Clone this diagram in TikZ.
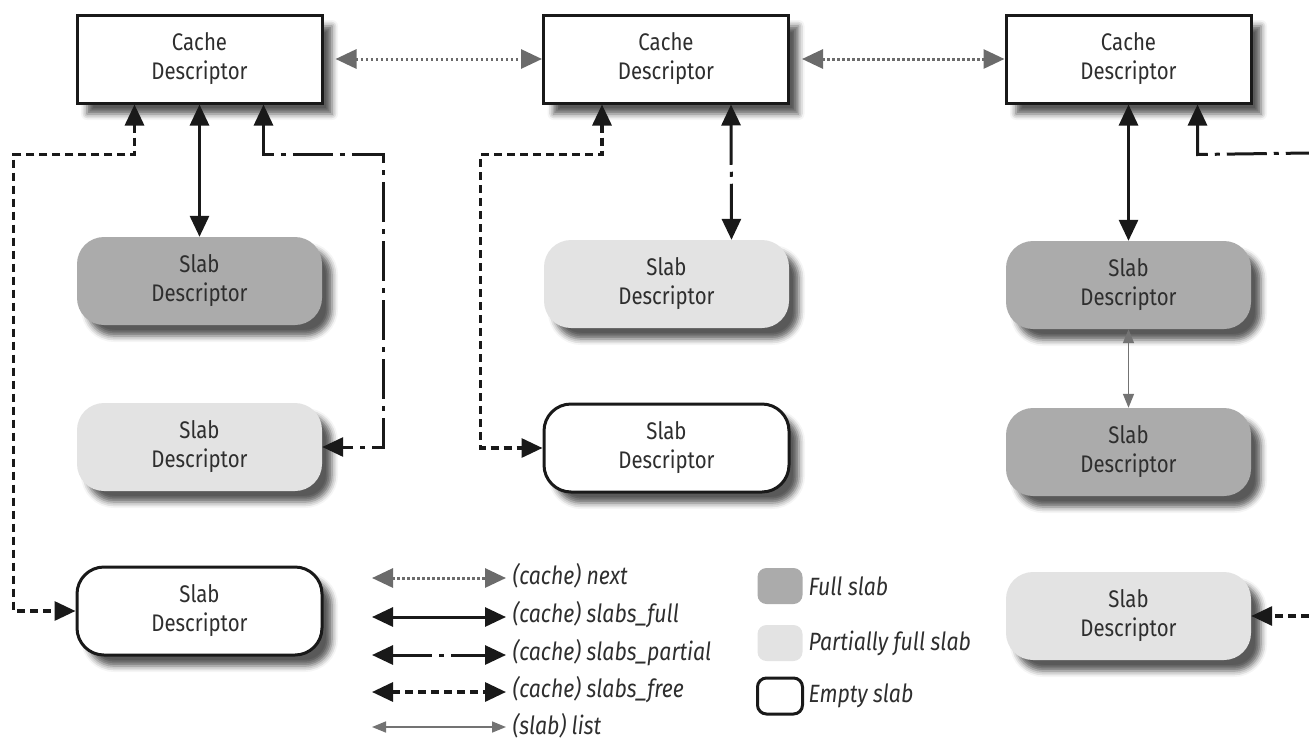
\documentclass[tikz,border=0pt]{standalone}
\usepackage{fontspec}
\setmainfont{Fira Sans}[FakeStretch=0.85]
\usetikzlibrary{arrows.meta,shadows.blur}

\tikzset{
	desc/.style={align=center, text=black!82, minimum width=245pt, minimum height=88pt, font=\fontsize{24pt}{29pt}\selectfont},
	softshadow/.style={blur shadow={shadow xshift=10pt, shadow yshift=-11pt, shadow blur radius=6pt, shadow opacity=65}},
	cachebox/.style={desc, softshadow, draw=black!90, line width=3pt, fill=white},
	slabbox/.style={desc, softshadow, rounded corners=27pt},
	fullslab/.style={slabbox, fill=black!33},
	partslab/.style={slabbox, fill=black!11},
	emptyslab/.style={slabbox, fill=white, draw=black!90, line width=3pt},
	fulllink/.style={black!90, line width=3pt},
	partlink/.style={black!90, line width=3pt, dash pattern=on 40pt off 7pt on 5pt off 7pt},
	freelink/.style={black!90, line width=3.2pt, dash pattern=on 8pt off 5pt},
	nextlink/.style={black!58, line width=3pt, dash pattern=on 2.5pt off 2.5pt},
	listlink/.style={black!55, line width=1.6pt, >={Triangle[length=14pt,width=11pt]}},
	swatch/.style={rounded corners=9pt, minimum width=45pt, minimum height=36pt},
	legtext/.style={anchor=west, text=black!82, font=\itshape\fontsize{25pt}{28pt}\selectfont}
}

\begin{document}
\begin{tikzpicture}[x=1pt, y=-1pt, >={Triangle[length=21pt,width=19pt]}]
	\useasboundingbox (0,0) rectangle (1309,742);
	% cache descriptors
	\node[cachebox] (cacheA) at (199.5,59) {Cache\\Descriptor};
	\node[cachebox] (cacheB) at (666,59) {Cache\\Descriptor};
	\node[cachebox] (cacheC) at (1128.5,59) {Cache\\Descriptor};
	% slab descriptors
	\node[fullslab] (slabA1) at (199.5,281) {Slab\\Descriptor};
	\node[partslab] (slabA2) at (199.5,447) {Slab\\Descriptor};
	\node[emptyslab] (slabA3) at (199.5,611) {Slab\\Descriptor};
	\node[partslab] (slabB1) at (666.5,284) {Slab\\Descriptor};
	\node[emptyslab] (slabB2) at (666.5,448) {Slab\\Descriptor};
	\node[fullslab] (slabC1) at (1128.5,285) {Slab\\Descriptor};
	\node[fullslab] (slabC2) at (1128.5,452) {Slab\\Descriptor};
	\node[partslab] (slabC3) at (1128.5,616) {Slab\\Descriptor};
	\coordinate (edgeP) at (1309,153);
	\coordinate (edgeF) at (1309,616);

	% next
	\draw[nextlink,<->] ([xshift=12pt]cacheA.east) -- (cacheB.west);
	\draw[nextlink,<->] ([xshift=12pt]cacheB.east) -- (cacheC.west);
	% left cache
	\draw[fulllink,<->] (cacheA.south) -- (slabA1.north);
	\draw[freelink,<->] ([xshift=-65pt]cacheA.south) -- ++(0,50) -| ([xshift=-62pt]slabA3.west) -- (slabA3.west);
	\draw[partlink,<->] ([xshift=64pt]cacheA.south) -- ++(0,50) -| ([xshift=61pt]slabA2.east) -- (slabA2.east);
	% middle cache
	\draw[freelink,<->] ([xshift=-64pt]cacheB.south) -- ++(0,50) -| ([xshift=-62pt]slabB2.west) -- (slabB2.west);
	\draw[partlink,<->] ([xshift=65pt]cacheB.south) -- ([xshift=65pt]slabB1.north);
	% right cache
	\draw[fulllink,<->] (cacheC.south) -- (slabC1.north);
	\draw[listlink,<->] (slabC1.south) -- (slabC2.north);
	\draw[partlink,<-] ([xshift=69pt]cacheC.south) -- ++(0,50) -- (edgeP);
	\draw[freelink,->] (edgeF) -- (slabC3.east);

	% legend
	\coordinate (lgL1) at (372,578); \coordinate (lgR1) at (506,578);
	\coordinate (lgL2) at (372,617); \coordinate (lgR2) at (506,617);
	\coordinate (lgL3) at (372,655); \coordinate (lgR3) at (506,655);
	\coordinate (lgL4) at (372,692); \coordinate (lgR4) at (506,692);
	\coordinate (lgL5) at (372,727); \coordinate (lgR5) at (506,727);
	\draw[nextlink,<->] (lgL1) -- (lgR1);
	\draw[fulllink,<->] (lgL2) -- (lgR2);
	\draw[partlink,<->] (lgL3) -- (lgR3);
	\draw[freelink,<->] (lgL4) -- (lgR4);
	\draw[listlink,<->] (lgL5) -- (lgR5);
	\node[legtext] (lgNext) at (509,576) {(cache) next};
	\node[legtext] (lgFull) at (509,615) {(cache) slabs\_full};
	\node[legtext] (lgPart) at (509,653) {(cache) slabs\_partial};
	\node[legtext] (lgFree) at (509,690) {(cache) slabs\_free};
	\node[legtext] (lgList) at (509,726) {(slab) list};
	\node[swatch, fill=black!33] (swFull) at (780,586) {};
	\node[swatch, fill=black!11] (swPart) at (780,643) {};
	\node[swatch, draw=black!90, line width=3pt, fill=white] (swEmpty) at (780,696) {};
	\node[legtext] (lgSwFull) at (805,586) {Full slab};
	\node[legtext] (lgSwPart) at (805,643) {Partially full slab};
	\node[legtext] (lgSwEmpty) at (805,696) {Empty slab};
\end{tikzpicture}
\end{document}
